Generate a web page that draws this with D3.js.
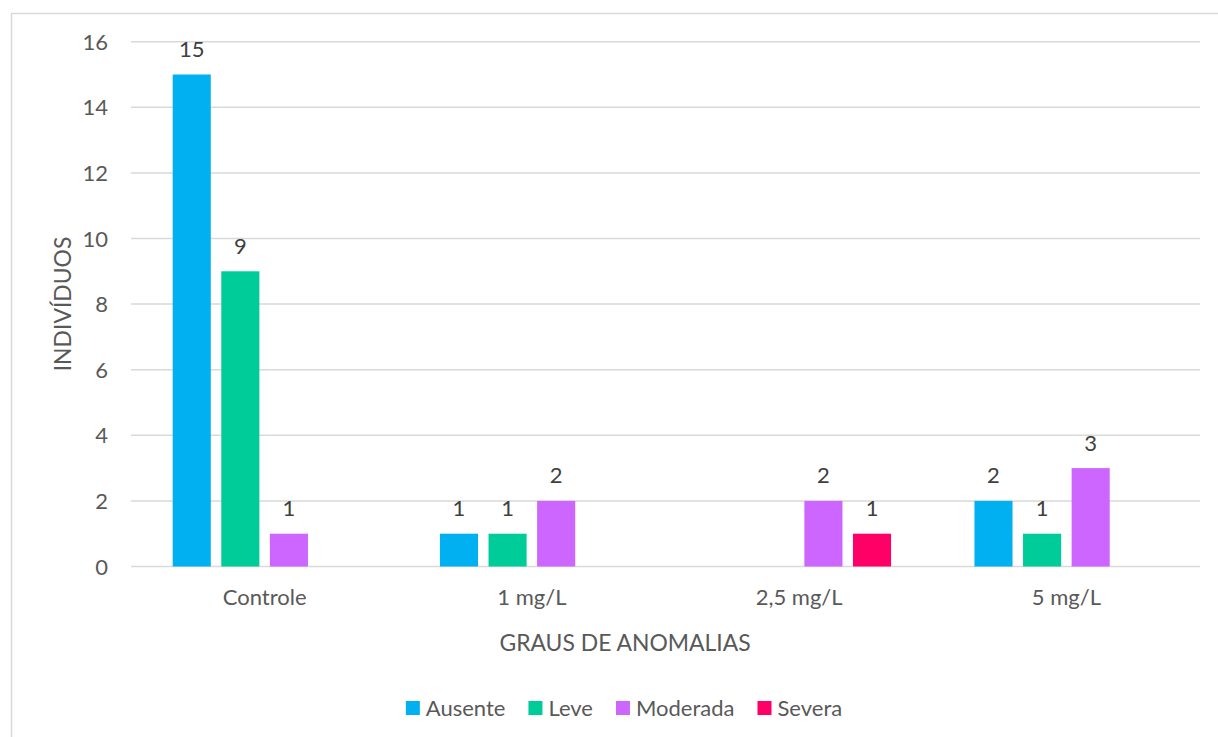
<!DOCTYPE html>
<html>
<head>
<meta charset="utf-8">
<script src="https://cdn.jsdelivr.net/npm/d3@7"></script>
<style>
  html, body { margin: 0; padding: 0; background: #fff; }
  svg { display: block; }
  text { font-family: Lato, "Liberation Sans", Arial, sans-serif; fill: #595959; }
</style>
</head>
<body>
<svg id="chart" width="1218" height="737"></svg>
<script>
// Doses tested and the number of individuals in each anomaly grade
const categories = ["Controle", "1 mg/L", "2,5 mg/L", "5 mg/L"];
const seriesNames = ["Ausente", "Leve", "Moderada", "Severa"];
const ausente  = [15, 1, null, 2];
const leve     = [9, 1, null, 1];
const moderada = [1, 2, 2, 3];
const severa   = [null, null, 1, null];
const yTicks = [0, 2, 4, 6, 8, 10, 12, 14, 16];
const colors = ["#00B0F0", "#00CC99", "#CC66FF", "#FF0066"];

const seriesValues = [ausente, leve, moderada, severa];

const svg = d3.select("#chart");
const W = 1218, H = 737;
const plot = { left: 131, right: 1200, top: 41.7, bottom: 566.5 };
const fontSize = 22;
const titleSize = 22.9;

svg.append("rect").attr("width", W).attr("height", H).attr("fill", "#fff");

// outer chart frame
svg.append("rect")
  .attr("x", 11.5).attr("y", 13.5)
  .attr("width", 1230).attr("height", 740)
  .attr("fill", "none").attr("stroke", "#d9d9d9").attr("stroke-width", 1.5);

const y = d3.scaleLinear().domain([0, 16]).range([plot.bottom, plot.top]);
const x0 = d3.scaleBand().domain(categories).range([plot.left, plot.right]).padding(0);
const x1 = d3.scaleBand().domain(seriesNames).range([0, x0.bandwidth()])
  .paddingInner(0.216).paddingOuter(0.858);

// horizontal gridlines
svg.append("g")
  .selectAll("line")
  .data(yTicks)
  .join("line")
  .attr("x1", plot.left).attr("x2", plot.right)
  .attr("y1", d => y(d)).attr("y2", d => y(d))
  .attr("stroke", "#d9d9d9").attr("stroke-width", 1.5);

// y tick labels
svg.append("g")
  .selectAll("text")
  .data(yTicks)
  .join("text")
  .attr("x", 108).attr("y", d => y(d) + 8)
  .attr("text-anchor", "end")
  .style("font-size", fontSize + "px")
  .text(d => d);

// bars and their value labels
const flat = [];
categories.forEach((c, ci) => {
  seriesNames.forEach((s, si) => {
    const v = seriesValues[si][ci];
    if (v !== null && v !== undefined) flat.push({ cat: c, series: s, si, value: v });
  });
});

svg.append("g")
  .selectAll("rect")
  .data(flat)
  .join("rect")
  .attr("x", d => x0(d.cat) + x1(d.series))
  .attr("y", d => y(d.value))
  .attr("width", x1.bandwidth())
  .attr("height", d => y(0) - y(d.value))
  .attr("fill", d => colors[d.si]);

svg.append("g")
  .selectAll("text")
  .data(flat)
  .join("text")
  .attr("x", d => x0(d.cat) + x1(d.series) + x1.bandwidth() / 2)
  .attr("y", d => y(d.value) - 17.5)
  .attr("text-anchor", "middle")
  .style("font-size", fontSize + "px")
  .style("fill", "#404040")
  .text(d => d.value);

// category labels
svg.append("g")
  .selectAll("text")
  .data(categories)
  .join("text")
  .attr("x", d => x0(d) + x0.bandwidth() / 2)
  .attr("y", 605)
  .attr("text-anchor", "middle")
  .style("font-size", fontSize + "px")
  .text(d => d);

// axis titles
svg.append("text")
  .attr("x", 625).attr("y", 651)
  .attr("text-anchor", "middle")
  .style("font-size", titleSize + "px")
  .text("GRAUS DE ANOMALIAS");

svg.append("text")
  .attr("transform", "translate(71,304) rotate(-90)")
  .attr("text-anchor", "middle")
  .style("font-size", titleSize + "px")
  .text("INDIVÍDUOS");

// legend, centred under the chart
const legend = svg.append("g");
const items = legend.selectAll("g")
  .data(seriesNames)
  .join("g");
items.append("rect")
  .attr("y", 701).attr("width", 14).attr("height", 14)
  .attr("fill", (d, i) => colors[i]);
items.append("text")
  .attr("x", 20).attr("y", 716)
  .style("font-size", fontSize + "px")
  .text(d => d);

const gap = 23;
const widths = [];
items.each(function () {
  widths.push(20 + d3.select(this).select("text").node().getComputedTextLength());
});
const total = d3.sum(widths) + gap * (widths.length - 1);
let cx = 624 - total / 2;
items.each(function (d, i) {
  d3.select(this).attr("transform", `translate(${cx},0)`);
  cx += widths[i] + gap;
});
</script>
</body>
</html>
